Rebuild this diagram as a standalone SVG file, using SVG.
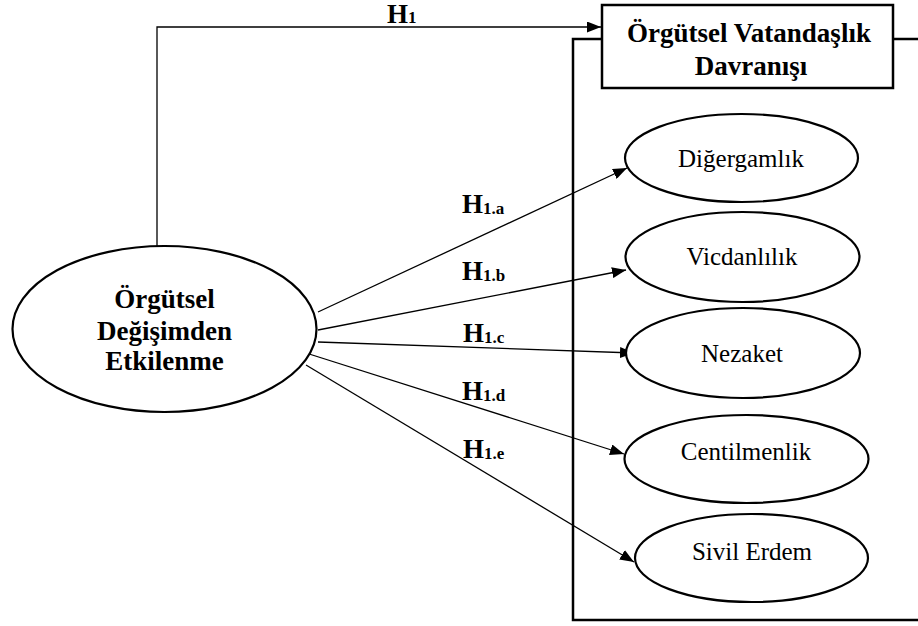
<svg xmlns="http://www.w3.org/2000/svg" width="918" height="626" viewBox="0 0 918 626" font-family="'Liberation Serif', 'Times New Roman', 'DejaVu Serif', serif">
<style>
.bg{fill:#fff}
.frame{fill:none;stroke:#000;stroke-width:2.5}
.box{fill:#fff;stroke:#000;stroke-width:2.5}
.ell{fill:#fff;stroke:#000;stroke-width:2.2}
.con{fill:none;stroke:#000;stroke-width:1.3}
text{font-family:'Liberation Serif','Times New Roman','DejaVu Serif',serif;fill:#000}
.t{text-anchor:middle}
.reg{font-size:25px}
.bold{font-size:27px;font-weight:bold}
.h{font-weight:bold;font-size:27px}
.sub{font-size:17px}
</style>
<defs>
<marker id="arr" viewBox="0 0 14 11" refX="14" refY="5.5" markerWidth="14" markerHeight="11" markerUnits="userSpaceOnUse" orient="auto">
<path d="M0,0 L14,5.5 L0,11 Z" fill="#000"/>
</marker>
</defs>
<rect class="bg" x="0" y="0" width="918" height="626"/>
<g id="frame">
<path class="frame" d="M602 39 H573 V620 H918 M893 39 H918"/>
</g>
<g id="connectors">
<path class="con" d="M157 246 V27 H601" marker-end="url(#arr)"/>
<line class="con" x1="318" y1="312" x2="627" y2="168" marker-end="url(#arr)"/>
<line class="con" x1="318" y1="330" x2="626" y2="270" marker-end="url(#arr)"/>
<line class="con" x1="318" y1="342" x2="634" y2="353" marker-end="url(#arr)"/>
<line class="con" x1="306" y1="353" x2="624" y2="454" marker-end="url(#arr)"/>
<line class="con" x1="306" y1="365" x2="634" y2="562" marker-end="url(#arr)"/>
</g>
<g id="labels">
<text class="h" x="387" y="23">H<tspan class="sub">1</tspan></text>
<text class="h" x="462" y="213">H<tspan class="sub" dy="1">1.a</tspan></text>
<text class="h" x="462" y="280">H<tspan class="sub" dy="1">1.b</tspan></text>
<text class="h" x="463" y="342">H<tspan class="sub" dy="1">1.c</tspan></text>
<text class="h" x="462" y="400">H<tspan class="sub" dy="1">1.d</tspan></text>
<text class="h" x="463" y="458">H<tspan class="sub" dy="1">1.e</tspan></text>
</g>
<g id="node-ovd">
<rect class="box" x="602" y="5" width="291" height="83"/>
<text class="t bold" x="749" y="42">Örgütsel Vatandaşlık</text>
<text class="t bold" x="751" y="75">Davranışı</text>
</g>
<g id="node-ode">
<ellipse class="ell" cx="164.5" cy="329" rx="152" ry="83"/>
<text class="t bold" x="164.5" y="308">Örgütsel</text>
<text class="t bold" x="164.5" y="340">Değişimden</text>
<text class="t bold" x="164.5" y="370">Etkilenme</text>
</g>
<g id="node-digergamlik">
<ellipse class="ell" cx="741.5" cy="158" rx="116.5" ry="44"/>
<text class="t reg" x="741" y="167">Diğergamlık</text>
</g>
<g id="node-vicdanlilik">
<ellipse class="ell" cx="742.5" cy="257" rx="117" ry="45"/>
<text class="t reg" x="742" y="265">Vicdanlılık</text>
</g>
<g id="node-nezaket">
<ellipse class="ell" cx="743" cy="353" rx="117" ry="45"/>
<text class="t reg" x="742" y="362">Nezaket</text>
</g>
<g id="node-centilmenlik">
<ellipse class="ell" cx="746.5" cy="459" rx="122" ry="44"/>
<text class="t reg" x="746" y="460">Centilmenlik</text>
</g>
<g id="node-sivil-erdem">
<ellipse class="ell" cx="751.5" cy="558" rx="116.5" ry="44"/>
<text class="t reg" x="752" y="560">Sivil Erdem</text>
</g>
</svg>
